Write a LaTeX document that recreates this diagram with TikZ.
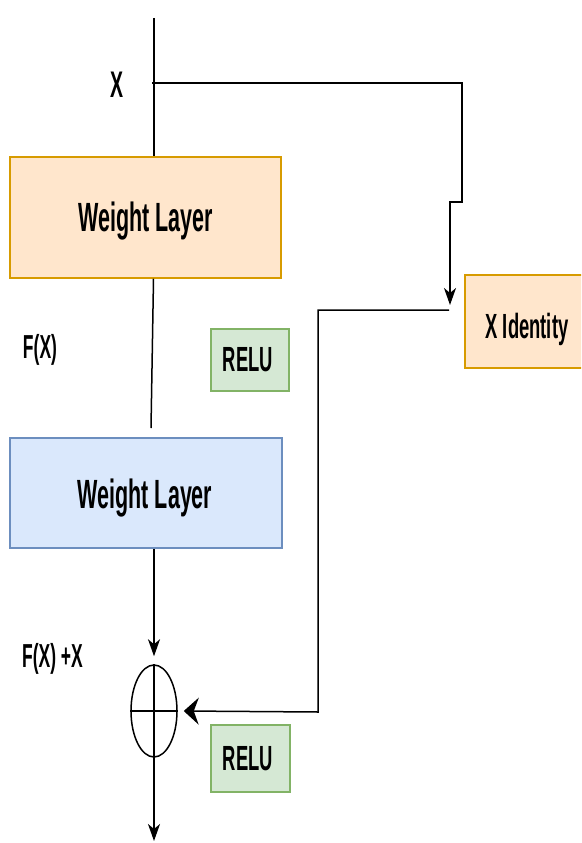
\documentclass[tikz,border=0pt]{standalone}
\usepackage{graphicx}
\usepackage{fontspec}
\setmainfont{Liberation Sans}
\usetikzlibrary{arrows.meta,shapes.geometric}
\definecolor{ofill}{HTML}{FFE6CC}
\definecolor{oline}{HTML}{D79B00}
\definecolor{bfill}{HTML}{DAE8FC}
\definecolor{bline}{HTML}{6C8EBF}
\definecolor{gfill}{HTML}{D5E8D4}
\definecolor{gline}{HTML}{82B366}
\newcommand\lbl[2]{\scalebox{1}[1.9]{\fontsize{#1}{#1}\selectfont\bfseries #2}}
\tikzset{
  boxbase/.style={rectangle, line width=1.5pt, inner sep=0pt},
  orangebox/.style={boxbase, fill=ofill, draw=oline},
  bluebox/.style={boxbase, fill=bfill, draw=bline},
  greenbox/.style={boxbase, fill=gfill, draw=gline},
  txt/.style={inner sep=0pt, anchor=base},
  conn/.style={line width=1.5pt, black},
  varrow/.style={conn, -{Stealth[length=17pt,width=12pt,inset=5pt]}},
  harrow/.style={conn, -{Stealth[length=15pt,width=27pt,inset=5pt]}},
}
\begin{document}
\begin{tikzpicture}[x=1pt,y=-1pt]
\useasboundingbox (0,0) rectangle (581,843);
\clip (0,0) rectangle (581,843);
\fill[white] (0,0) rectangle (581,843);

% boxes
\node[orangebox, minimum width=271pt, minimum height=121pt] (w1) at (145.5,217.5) {};
\node[bluebox, minimum width=272pt, minimum height=110pt] (w2) at (146,493) {};
\node[orangebox, minimum width=125pt, minimum height=93pt] (id) at (527.5,321.5) {};
\node[greenbox, minimum width=78pt, minimum height=62pt] (r1) at (250,360) {};
\node[greenbox, minimum width=79pt, minimum height=67pt] (r2) at (250.5,758.5) {};
\node[ellipse, draw, line width=1.5pt, minimum width=46pt, minimum height=92pt, inner sep=0pt] (sum) at (154,711) {};
\draw[line width=1.5pt] (sum.north) -- (sum.south);
\draw[line width=1.5pt] (sum.west) -- (sum.east);

% texts
\node[txt] (tw1) at (145.5,231) {\lbl{21.5pt}{Weight Layer}};
\node[txt] (tw2) at (145,508) {\lbl{21.5pt}{Weight Layer}};
\node[txt] (tid) at (527,338) {\lbl{18.4pt}{X Identity}};
\node[txt] (tr1) at (248,371) {\lbl{18.4pt}{RELU}};
\node[txt] (tr2) at (248,770) {\lbl{18.4pt}{RELU}};
\node[txt] (tx) at (117,97) {\lbl{19.5pt}{X}};
\node[txt] (tfx) at (40,358) {\lbl{17.5pt}{F(X)}};
\node[txt] (tfxx) at (52.5,667) {\lbl{17.5pt}{F(X) +X}};

% coordinates
\coordinate (top) at (154,18);
\coordinate (xs) at (152,83);
\coordinate (b1) at (462,202);
\coordinate (b2) at (450,202);
\coordinate (ah) at (450,305);
\coordinate (h1) at (449,310);
\coordinate (h2) at (318,712);
\coordinate (m2) at (151,428);
\coordinate (bot) at (154,841);

% connectors
\draw[conn] (top) -- (top |- w1.north);
\draw[varrow] (xs) -| (b1) -- (b2) -- (ah);
\draw[conn] ([xshift=8pt]w1.south) -- (m2);
\draw[harrow] (h1) -| (h2) -- ([xshift=6pt]sum.east);
\draw[varrow] (sum.north |- w2.south) -- ([yshift=8pt]sum.north);
\draw[varrow] (sum.south) -- (bot);
\end{tikzpicture}
\end{document}
